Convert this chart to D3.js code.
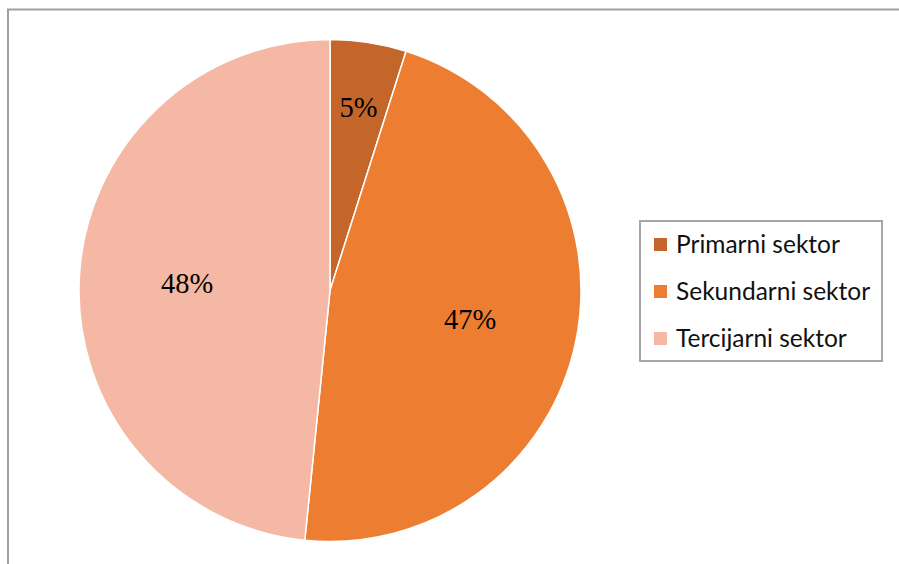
<!DOCTYPE html>
<html>
<head>
<meta charset="utf-8">
<script src="https://cdn.jsdelivr.net/npm/d3@7"></script>
<style>
  html, body { margin: 0; padding: 0; background: #fff; }
  svg { display: block; }
</style>
</head>
<body>
<div id="chart"></div>
<script>
const sectors = ["Primarni sektor", "Sekundarni sektor", "Tercijarni sektor"];
const shares = [4.9, 46.7, 48.4];
const pctLabels = ["5%", "47%", "48%"];
const colors = ["#C4662A", "#ED7D31", "#F4B8A4"];

const W = 899, H = 564;
const cx = 330, cy = 290.5, r = 251;

const svg = d3.select("#chart").append("svg")
  .attr("width", W).attr("height", H);

// outer frame (bottom and right run off the picture)
svg.append("rect")
  .attr("x", 8).attr("y", 9.5)
  .attr("width", 900).attr("height", 600)
  .attr("fill", "none").attr("stroke", "#a0a0a0").attr("stroke-width", 2);

const pie = d3.pie().sort(null).value((d) => d.v);
const data = sectors.map((s, i) => ({ s, v: shares[i], label: pctLabels[i], color: colors[i] }));
const arcs = pie(data);

const arc = d3.arc().innerRadius(0).outerRadius(r);
const g = svg.append("g").attr("transform", `translate(${cx},${cy})`);

g.selectAll("path")
  .data(arcs)
  .join("path")
  .attr("d", arc)
  .attr("fill", (d) => d.data.color)
  .attr("stroke", "#fff")
  .attr("stroke-width", 1.5);

// small slices get their label further out, like Excel's best fit
g.selectAll("text")
  .data(arcs)
  .join("text")
  .attr("transform", (d) => {
    const f = d.data.v < 10 ? 0.74 : 0.57;
    const la = d3.arc().innerRadius(r * f).outerRadius(r * f);
    const [x, y] = la.centroid(d);
    return `translate(${x},${y})`;
  })
  .attr("text-anchor", "middle")
  .attr("dy", "0.35em")
  .attr("font-family", "'Liberation Serif', 'Times New Roman', serif")
  .attr("font-size", 28.5)
  .attr("fill", "#000")
  .text((d) => d.data.label);

// legend
const lg = svg.append("g");
lg.append("rect")
  .attr("x", 640).attr("y", 221)
  .attr("width", 242).attr("height", 140)
  .attr("fill", "#fff").attr("stroke", "#a6a6a6").attr("stroke-width", 2);

const rowY = d3.scalePoint().domain(sectors).range([244, 338]);
const items = lg.selectAll("g.item")
  .data(data)
  .join("g")
  .attr("class", "item")
  .attr("transform", (d) => `translate(0,${rowY(d.s)})`);

items.append("rect")
  .attr("x", 654).attr("y", -6)
  .attr("width", 13).attr("height", 13)
  .attr("fill", (d) => d.color);

items.append("text")
  .attr("x", 676)
  .attr("dy", "0.35em")
  .attr("font-family", "Lato, 'Open Sans', sans-serif")
  .attr("font-size", 24.5)
  .attr("fill", "#111")
  .text((d) => d.s);
</script>
</body>
</html>
